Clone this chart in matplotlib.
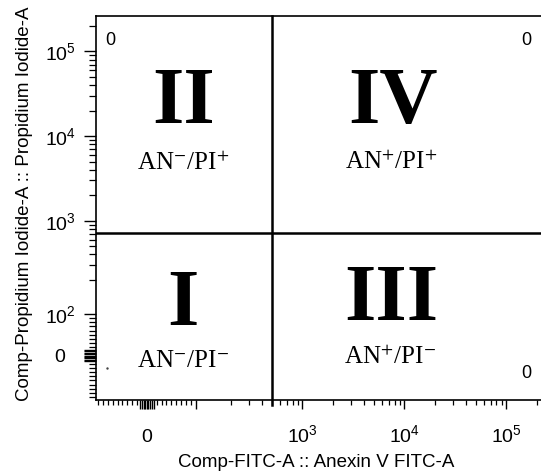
import numpy as np
import matplotlib
matplotlib.use('Agg')
import matplotlib.pyplot as plt
from matplotlib.ticker import FixedLocator, FixedFormatter

plt.rcParams['font.family'] = 'Liberation Sans'
plt.rcParams['mathtext.fontset'] = 'custom'
plt.rcParams['mathtext.rm'] = 'Liberation Sans'
plt.rcParams['mathtext.it'] = 'Liberation Sans:italic'
plt.rcParams['mathtext.bf'] = 'Liberation Sans:bold'

# axis ranges (channel values) and quadrant gates
x_lim = (-104, 262144)
y_lim = (-107, 262144)
an_gate = 503
pi_gate = 718

# the single stray event visible in quadrant I
event_x = [-82]
event_y = [-30]

# tick values and labels
x_major = [0, 100, 1000, 10000, 100000]
x_major_labels = ['0', '', '10^{3}', '10^{4}', '10^{5}']
y_major = [0, 100, 1000, 10000, 100000]
y_major_labels = ['0', '10^{2}', '10^{3}', '10^{4}', '10^{5}']
lin_minor = [-100, -90, -80, -70, -60, -50, -40, -30, -20, 20, 30, 40, 50, 60, 70, 80, 90]
zero_cluster = [-14, -10, -6, -3, 3, 6, 10, 14]
log_minor = [m * 10 ** n for n in (2, 3, 4, 5) for m in range(2, 10) if m * 10 ** n < 262144]

# quadrant annotations
quad_names = ['II', 'IV', 'I', 'III']
quad_pheno = [r'AN$^{-}$/PI$^{+}$', r'AN$^{+}$/PI$^{+}$', r'AN$^{-}$/PI$^{-}$', r'AN$^{+}$/PI$^{-}$']
quad_counts = ['0', '0', '0']

x_title = 'Comp-FITC-A :: Anexin V FITC-A'
y_title = 'Comp-Propidium Iodide-A :: Propidium Iodide-A'


def biex(T, k):
    # linear near zero, log above T (FlowJo-like display)
    def fwd(v):
        v = np.asarray(v, dtype=float)
        a = np.abs(v)
        with np.errstate(divide='ignore', invalid='ignore'):
            out = np.where(a <= T, k * a / T, k + np.log10(np.maximum(a, T) / T))
        return np.sign(v) * out

    def inv(f):
        f = np.asarray(f, dtype=float)
        a = np.abs(f)
        out = np.where(a <= k, a * T / k, T * 10 ** (np.minimum(a, 12) - k))
        return np.sign(f) * out
    return fwd, inv


fig = plt.figure(figsize=(5.41, 4.73), dpi=100)
ax = fig.add_axes([96 / 541, 73 / 473, 453 / 541, 384 / 473])
ax.set_xscale('function', functions=biex(140, 0.672))
ax.set_yscale('function', functions=biex(165, 0.81))
ax.set_xlim(*x_lim)
ax.set_ylim(*y_lim)

ax.scatter(event_x, event_y, s=3, color='#444444', marker='o', linewidths=0)

ax.axvline(an_gate, ymin=-0.014, color='black', lw=1.8, clip_on=False)
ax.axhline(pi_gate, color='black', lw=1.8)

# ticks
xm = x_major + zero_cluster
xl = [r'$\mathregular{%s}$' % s for s in x_major_labels] + [''] * len(zero_cluster)
ax.xaxis.set_major_locator(FixedLocator(xm))
ax.xaxis.set_major_formatter(FixedFormatter(xl))
ax.xaxis.set_minor_locator(FixedLocator(lin_minor + log_minor))
ym = y_major + zero_cluster
yl = [r'$\mathregular{%s}$' % s for s in y_major_labels] + [''] * len(zero_cluster)
ax.yaxis.set_major_locator(FixedLocator(ym))
ax.yaxis.set_major_formatter(FixedFormatter(yl))
ax.yaxis.set_minor_locator(FixedLocator(lin_minor + log_minor))

ax.tick_params(axis='x', which='major', direction='out', length=6.5, width=1, pad=23.8, labelsize=14)
ax.tick_params(axis='x', which='minor', direction='out', length=3.6, width=0.9)
ax.tick_params(axis='y', which='major', direction='out', length=8.6, width=1, pad=17.3, labelsize=14)
ax.tick_params(axis='y', which='minor', direction='out', length=5, width=0.9)
for lab in ax.get_xticklabels():
    lab.set_verticalalignment('baseline')
for lab in ax.get_yticklabels():
    lab.set_horizontalalignment('center')

for side in ['left', 'bottom', 'top']:
    ax.spines[side].set_linewidth(1.2)
ax.spines['right'].set_visible(False)

# quadrant labels
name_pos = [(0.194, 0.773), (0.656, 0.771), (0.192, 0.245), (0.653, 0.260)]
pheno_pos = [(0.192, 0.617), (0.651, 0.620), (0.192, 0.102), (0.649, 0.110)]
for name, (px, py) in zip(quad_names, name_pos):
    ax.text(px, py, name, transform=ax.transAxes, ha='center', va='center',
            family='Liberation Serif', fontweight='bold', fontsize=58)
for ph, (px, py) in zip(quad_pheno, pheno_pos):
    ax.text(px, py, ph, transform=ax.transAxes, ha='center', va='center',
            family='Liberation Serif', fontsize=18, math_fontfamily='stix')

count_pos = [(0.031, 0.935), (0.951, 0.935), (0.951, 0.070)]
for c, (px, py) in zip(quad_counts, count_pos):
    ax.text(px, py, c, transform=ax.transAxes, ha='center', va='center', fontsize=13)

ax.set_xlabel(x_title, fontsize=13.5)
ax.xaxis.set_label_coords(0.486, -0.14)
ax.xaxis.label.set_verticalalignment('top')
ax.set_ylabel(y_title, fontsize=13.5)
ax.yaxis.set_label_coords(-0.138, 0.512)

fig.savefig('out.png', dpi=100)
